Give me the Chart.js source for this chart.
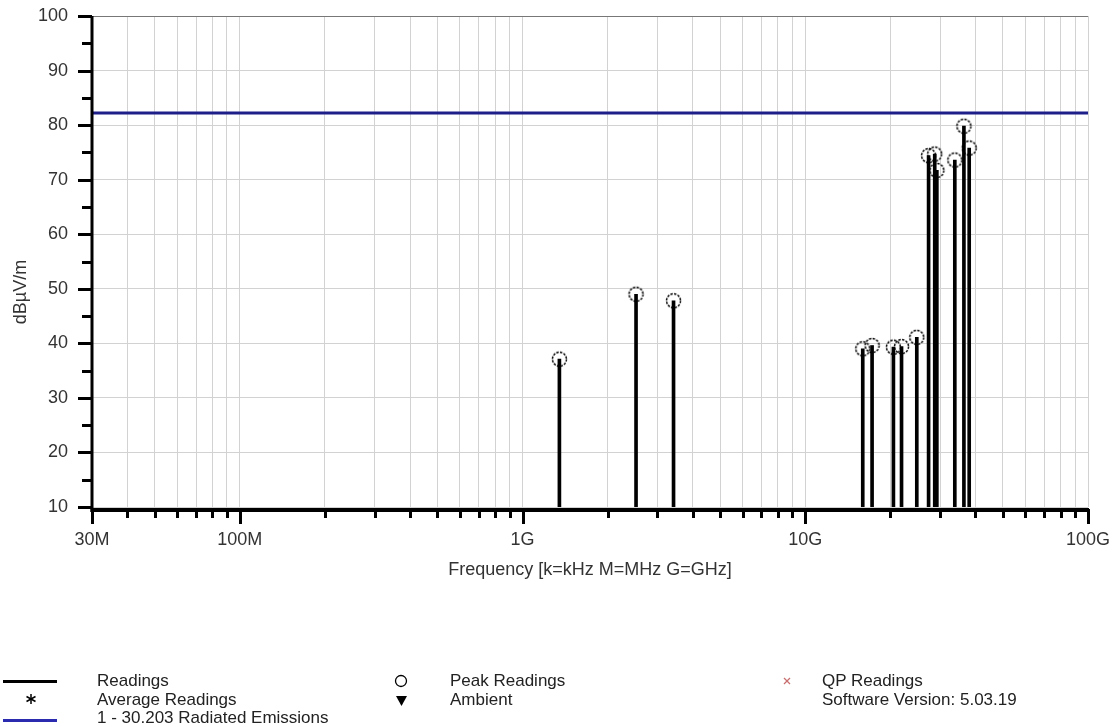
<!DOCTYPE html>
<html><head><meta charset="utf-8">
<script src="https://cdn.jsdelivr.net/npm/chart.js@4.4.0/dist/chart.umd.min.js"></script>
<style>
html,body{margin:0;padding:0;background:#fff;}
#wrap{position:relative;width:1119px;height:727px;overflow:hidden;font-family:"Liberation Sans",Arial,sans-serif;background:#fff;}
#c{position:absolute;left:0;top:0;}
.lg{position:absolute;font-size:17px;color:#222;line-height:19px;white-space:nowrap;}
.sym{position:absolute;}
</style></head><body>
<div id="wrap">
<canvas id="c" width="1119" height="727"></canvas>
<div class="sym" style="left:3px;top:680px;width:54px;height:3px;background:#000"></div>
<div class="lg" style="left:97px;top:671px">Readings</div>
<svg class="sym" style="left:25px;top:693px" width="12" height="12"><g stroke="#000" stroke-width="1.5"><line x1="6" y1="1" x2="6" y2="11"/><line x1="1.5" y1="3.5" x2="10.5" y2="8.5"/><line x1="1.5" y1="8.5" x2="10.5" y2="3.5"/></g></svg>
<div class="lg" style="left:97px;top:690px">Average Readings</div>
<div class="sym" style="left:3px;top:719px;width:54px;height:3px;background:#2b2bb0"></div>
<div class="lg" style="left:97px;top:708px">1 - 30.203 Radiated Emissions</div>
<svg class="sym" style="left:394px;top:674px" width="14" height="14"><circle cx="7" cy="7" r="5.5" fill="none" stroke="#000" stroke-width="1.3"/></svg>
<div class="lg" style="left:450px;top:671px">Peak Readings</div>
<svg class="sym" style="left:395px;top:694px" width="13" height="13"><polygon points="1,2 12,2 6.5,12" fill="#000"/></svg>
<div class="lg" style="left:450px;top:690px">Ambient</div>
<svg class="sym" style="left:782px;top:676px" width="10" height="10"><g stroke="#c87070" stroke-width="1.2"><line x1="2" y1="2" x2="8" y2="8"/><line x1="2" y1="8" x2="8" y2="2"/></g></svg>
<div class="lg" style="left:822px;top:671px">QP Readings</div>
<div class="lg" style="left:822px;top:690px">Software Version: 5.03.19</div>
</div>
<script>
// ---- data ----
const peakFreqHz = [1.35e9, 2.52e9, 3.42e9, 15.97e9, 17.23e9, 20.5e9, 21.9e9, 24.8e9, 27.3e9, 28.7e9, 29.2e9, 33.8e9, 36.4e9, 38.0e9];
const peakDb     = [37.1, 49.0, 47.8, 39.0, 39.6, 39.3, 39.4, 41.1, 74.4, 74.7, 71.7, 73.6, 79.8, 75.8];
const limitFreqHz = [30e6, 100e9];
const limitDb     = [82.2, 82.2];
const xTickValues = [3e7, 1e8, 1e9, 1e10, 1e11];
const xTickLabels = ['30M', '100M', '1G', '10G', '100G'];
const yTickLabels = [10, 20, 30, 40, 50, 60, 70, 80, 90, 100];
const xTitle = 'Frequency [k=kHz M=MHz G=GHz]';
const yTitle = 'dBµV/m';

Chart.defaults.font.family = '"Liberation Sans", Arial, sans-serif';
Chart.defaults.font.size = 18;
Chart.defaults.color = '#333';

// dashed open circle marker
const mk = document.createElement('canvas');
mk.width = 19; mk.height = 19;
(function(){
  const g = mk.getContext('2d');
  g.strokeStyle = '#000'; g.lineWidth = 1.5;
  g.setLineDash([2.4, 1.3]);
  g.beginPath(); g.arc(9.5, 9.5, 7, 0, Math.PI*2); g.stroke();
})();

const axisPlugin = {
  id: 'axisDeco',
  afterDraw(chart) {
    const ctx = chart.ctx, ca = chart.chartArea;
    const xs = chart.scales.x, ys = chart.scales.y;
    ctx.save();
    ctx.strokeStyle = '#000';
    ctx.lineWidth = 3;
    for (let v = ys.min; v <= ys.max + 0.001; v += 5) {
      const y = Math.round(ys.getPixelForValue(v)) + 0.5;
      const len = (v % 10 === 0) ? 14 : 10;
      ctx.beginPath(); ctx.moveTo(ca.left - len, y); ctx.lineTo(ca.left, y); ctx.stroke();
    }
    xs.ticks.forEach(t => {
      const x = Math.round(xs.getPixelForValue(t.value)) + 0.5;
      const major = xTickValues.some(v => Math.abs(Math.log10(v) - Math.log10(t.value)) < 1e-6);
      const len = major ? 15 : 9;
      ctx.beginPath(); ctx.moveTo(x, ca.bottom + 2); ctx.lineTo(x, ca.bottom + 2 + len); ctx.stroke();
    });
    ctx.lineWidth = 3;
    ctx.beginPath(); ctx.moveTo(ca.left, ca.top); ctx.lineTo(ca.left, ca.bottom + 5); ctx.stroke();
    ctx.lineWidth = 4;
    ctx.beginPath(); ctx.moveTo(ca.left - 1.5, ca.bottom + 3); ctx.lineTo(ca.right + 1, ca.bottom + 3); ctx.stroke();
    ctx.fillStyle = '#333';
    ctx.font = '18px "Liberation Sans", Arial, sans-serif';
    ctx.translate(21, 292);
    ctx.rotate(-Math.PI / 2);
    ctx.textAlign = 'center'; ctx.textBaseline = 'middle';
    ctx.fillText(yTitle, 0, 0);
    ctx.restore();
  }
};

new Chart(document.getElementById('c'), {
  type: 'scatter',
  data: {
    datasets: [
      {
        type: 'line',
        label: '1 - 30.203 Radiated Emissions',
        data: limitFreqHz.map((f, i) => ({x: f, y: limitDb[i]})),
        borderColor: '#1f1f8a',
        borderWidth: 3,
        pointRadius: 0,
        order: 3
      },
      {
        type: 'bar',
        label: 'Readings',
        data: peakFreqHz.map((f, i) => ({x: f, y: peakDb[i]})),
        backgroundColor: '#000',
        borderWidth: 0,
        barThickness: 3,
        order: 2
      },
      {
        type: 'scatter',
        label: 'Peak Readings',
        data: peakFreqHz.map((f, i) => ({x: f, y: peakDb[i]})),
        pointStyle: mk,
        pointRadius: 7,
        order: 1
      }
    ]
  },
  options: {
    responsive: false,
    animation: false,
    events: [],
    layout: {padding: {left: 0, right: 31, top: 16, bottom: 146}},
    plugins: {legend: {display: false}, tooltip: {enabled: false}},
    scales: {
      x: {
        type: 'logarithmic',
        min: 30e6, max: 100e9,
        offset: false,
        grid: {offset: false, color: '#d2d2d2', lineWidth: 1, drawTicks: false},
        border: {display: false},
        afterBuildTicks(scale) {
          const t = [];
          for (let e = 7; e <= 10; e++) {
            for (let m = 1; m <= 9; m++) {
              const v = m * Math.pow(10, e);
              if (v >= 30e6 - 1 && v <= 100e9 + 1) t.push({value: v});
            }
          }
          t.push({value: 1e11});
          scale.ticks = t;
        },
        afterFit(scale) { scale.height = 74; scale.paddingLeft = 0; scale.paddingRight = 0; },
        ticks: {
          autoSkip: false, maxRotation: 0, padding: 22, color: '#333',
          callback(v) {
            const i = xTickValues.findIndex(tv => Math.abs(Math.log10(tv) - Math.log10(v)) < 1e-6);
            return i >= 0 ? xTickLabels[i] : '';
          }
        },
        title: {display: true, text: xTitle, color: '#333', padding: 0}
      },
      y: {
        type: 'linear',
        min: 10, max: 100,
        grid: {color: (c) => c.tick && c.tick.value === 100 ? '#777' : '#d2d2d2', lineWidth: 1, drawTicks: false},
        border: {display: false},
        afterFit(scale) { scale.width = 92; scale.paddingTop = 0; scale.paddingBottom = 0; },
        afterBuildTicks(scale) { scale.ticks = yTickLabels.map(v => ({value: v})); },
        ticks: {padding: 24, color: '#333'}
      }
    }
  },
  plugins: [axisPlugin]
});
</script>
</body></html>
